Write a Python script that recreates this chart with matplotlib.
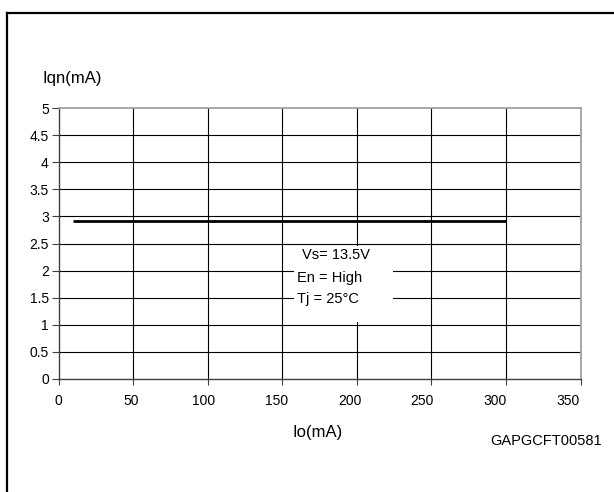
import matplotlib
matplotlib.use("Agg")
import matplotlib.pyplot as plt
from matplotlib.lines import Line2D
from matplotlib.patches import Rectangle
import matplotlib.transforms as mtransforms

plt.rcParams['font.family'] = ['Liberation Sans', 'DejaVu Sans']

# Data
io_ma = [10, 50, 100, 150, 200, 250, 300]
iqn_ma = [2.92, 2.92, 2.92, 2.92, 2.92, 2.92, 2.92]
xticks = [0, 50, 100, 150, 200, 250, 300, 350]
xtick_labels = ['0', '50', '100', '150', '200', '250', '300', '350']
yticks = [0, 0.5, 1, 1.5, 2, 2.5, 3, 3.5, 4, 4.5, 5]
ytick_labels = ['0', '0.5', '1', '1.5', '2', '2.5', '3', '3.5', '4', '4.5', '5']
conditions = ['Vs= 13.5V', 'En = High', 'Tj = 25°C']

fig = plt.figure(figsize=(6.14, 4.92), dpi=100)
ax = fig.add_axes([58.5 / 614, 1 - 379 / 492, (580.5 - 58.5) / 614, (379 - 108) / 492])

ax.set_xlim(0, 350)
ax.set_ylim(0, 5)

# Grid
for v in xticks[1:-1]:
    ax.axvline(v, color='black', lw=0.8, zorder=1)
for v in yticks[1:-1]:
    ax.axhline(v, color='black', lw=0.8, zorder=1)

# Conditions box (white, hides grid)
ax.add_patch(Rectangle((158, 1.06), 66, 1.40, facecolor='white', edgecolor='none', zorder=2))
ax.text(163, 2.29, conditions[0], fontsize=10.5, ha='left', va='center', zorder=3)
ax.text(160, 1.86, conditions[1], fontsize=10.5, ha='left', va='center', zorder=3)
ax.text(160, 1.48, conditions[2], fontsize=10.5, ha='left', va='center', zorder=3)

# Data line
ax.plot(io_ma, iqn_ma, color='black', lw=2.0, solid_capstyle='butt', zorder=4)

# Spines
for s in ['left', 'bottom']:
    ax.spines[s].set_color('#404040')
    ax.spines[s].set_linewidth(1.0)
for s in ['top', 'right']:
    ax.spines[s].set_color('#a0a0a0')
    ax.spines[s].set_linewidth(1.3)

# Y ticks
ax.set_yticks(yticks)
ax.set_yticklabels(ytick_labels, fontsize=10)
ax.tick_params(axis='y', length=5, width=0.8, color='#404040', pad=2)

# X ticks (labels placed manually, slightly compressed like the reference)
ax.set_xticks(xticks)
ax.set_xticklabels([])
ax.tick_params(axis='x', length=4, width=0.8, color='#404040')
trans = mtransforms.blended_transform_factory(ax.transData, ax.transAxes)
k = 509.3 / 522.0
for v, lab in zip(xticks, xtick_labels):
    ax.text(v * k, -(400.7 - 379) / 271.0, lab, transform=trans, fontsize=10,
            ha='center', va='center')

# Axis labels
fig.text(43 / 614, 1 - 78 / 492, 'Iqn(mA)', fontsize=12, ha='left', va='center')
fig.text(317.7 / 614, 1 - 433 / 492, 'Io(mA)', fontsize=12, ha='center', va='center')
fig.text(602 / 614, 1 - 441 / 492, 'GAPGCFT00581', fontsize=10.5, ha='right', va='center')

# Outer frame (top and left)
fig.add_artist(Line2D([7 / 614, 1.0], [1 - 13 / 492, 1 - 13 / 492], color='black', lw=1.6,
                      transform=fig.transFigure))
fig.add_artist(Line2D([7 / 614, 7 / 614], [0.0, 1 - 13 / 492], color='black', lw=1.6,
                      transform=fig.transFigure))

fig.savefig('out.png', dpi=100)
